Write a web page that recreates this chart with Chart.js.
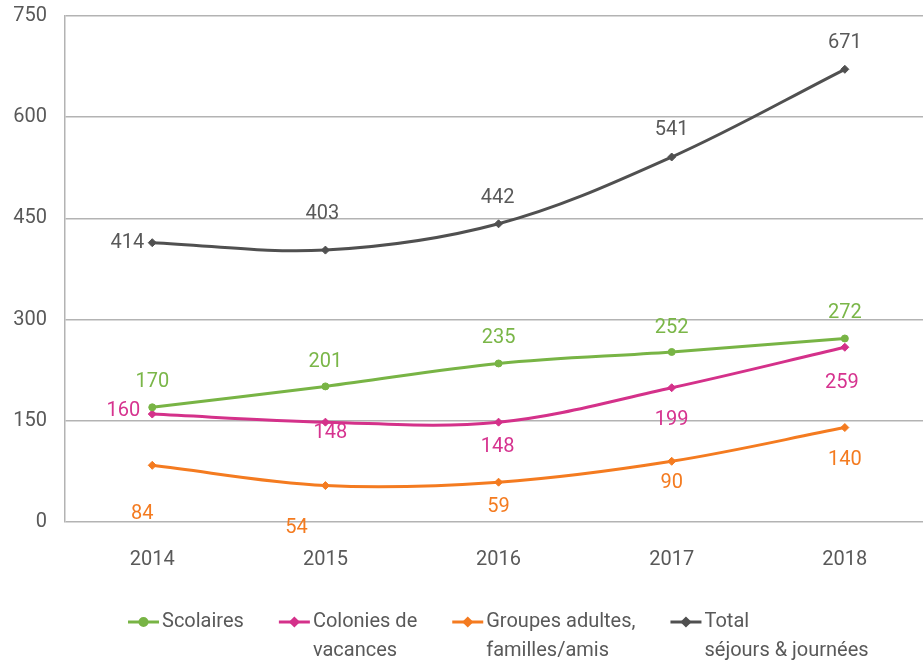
<!DOCTYPE html>
<html>
<head>
<meta charset="utf-8">
<script src="https://cdn.jsdelivr.net/npm/chart.js@4/dist/chart.umd.min.js"></script>
<style>
  html, body { margin: 0; padding: 0; overflow: hidden; background: #fff; }
</style>
</head>
<body>
<canvas id="chart" width="930" height="662"></canvas>
<script>
// data
const years = ['2014', '2015', '2016', '2017', '2018'];
const scolaires = [170, 201, 235, 252, 272];
const colonies = [160, 148, 148, 199, 259];
const groupes = [84, 54, 59, 90, 140];
const total = [414, 403, 442, 541, 671];
const yMax = 750;
const yStep = 150;

const legendNames = [
  ['Scolaires'],
  ['Colonies de', 'vacances'],
  ['Groupes adultes,', 'familles/amis'],
  ['Total', 'séjours & journées']
];

// where each value label sits relative to its point (dragged labels in the original)
const shiftScolaires = [[0, -25], [0, -24], [0, -25], [0, -24], [0, -25]];
const shiftColonies = [[-29, -3], [5, 11], [-1, 25], [0, 32], [-3, 36]];
const shiftGroupes = [[-10, 49], [-29, 42], [0, 25], [0, 22], [0, 32]];
const shiftTotal = [[-25, 0], [-3, -36], [-1, -26], [0, -27], [0, -26]];

const FONT = 'Roboto, "Noto Sans", sans-serif';
const TEXT = '#595959';
const GRID = '#b3b3b3';

// category index -> point; the plot is cut at the right edge of the picture,
// so the x range is a bit narrower than a plain category axis
const toPoints = arr => arr.map((v, i) => ({ x: i, y: v }));

// value labels next to each point
const valueLabels = {
  id: 'valueLabels',
  afterDatasetsDraw(chart) {
    const ctx = chart.ctx;
    ctx.save();
    ctx.font = '20px ' + FONT;
    ctx.textAlign = 'center';
    ctx.textBaseline = 'middle';
    chart.data.datasets.forEach((ds, i) => {
      const meta = chart.getDatasetMeta(i);
      ctx.fillStyle = ds.labelColor;
      meta.data.forEach((pt, j) => {
        const s = ds.labelShift[j];
        ctx.fillText(ds.data[j].y, pt.x + s[0], pt.y + s[1]);
      });
    });
    ctx.restore();
  }
};

// legend at the bottom, with two-line names
const bottomLegend = {
  id: 'bottomLegend',
  afterDraw(chart) {
    const ctx = chart.ctx;
    ctx.save();
    ctx.font = '20px ' + FONT;
    ctx.textBaseline = 'middle';
    let x = 128;
    const y = 622;
    legendNames.forEach((lines, i) => {
      const ds = chart.data.datasets[i];
      ctx.strokeStyle = ds.borderColor;
      ctx.lineWidth = 3;
      ctx.beginPath();
      ctx.moveTo(x, y);
      ctx.lineTo(x + 31, y);
      ctx.stroke();
      Chart.helpers.drawPoint(ctx, {
        pointStyle: ds.pointStyle, radius: 3.5, borderWidth: 1
      }, x + 15.5, y);
      ctx.fillStyle = ds.borderColor;
      ctx.fill();
      ctx.fillStyle = TEXT;
      ctx.textAlign = 'left';
      let w = 0;
      lines.forEach((t, k) => {
        ctx.fillText(t, x + 34, y + k * 29);
        w = Math.max(w, ctx.measureText(t).width);
      });
      x += 34 + w + 35;
    });
    ctx.restore();
  }
};

function series(label, data, color, labelColor, style, shift) {
  return {
    label: label,
    data: toPoints(data),
    borderColor: color,
    backgroundColor: color,
    pointBackgroundColor: color,
    pointBorderColor: color,
    borderWidth: 3,
    pointStyle: style,
    pointRadius: style === 'circle' ? 3.5 : 4,
    pointBorderWidth: 1,
    tension: 0.35,
    labelColor: labelColor,
    labelShift: shift
  };
}

new Chart(document.getElementById('chart'), {
  type: 'line',
  data: {
    datasets: [
      series('Scolaires', scolaires, '#78b445', '#7ab648', 'circle', shiftScolaires),
      series('Colonies de vacances', colonies, '#d4318a', '#d6338f', 'rectRot', shiftColonies),
      series('Groupes adultes, familles/amis', groupes, '#f47b20', '#f47b20', 'rectRot', shiftGroupes),
      series('Total séjours & journées', total, '#505050', TEXT, 'rectRot', shiftTotal)
    ]
  },
  options: {
    responsive: false,
    animation: false,
    layout: { padding: { top: 16, bottom: 92, left: 0, right: 0 } },
    plugins: {
      legend: { display: false },
      tooltip: { enabled: false }
    },
    scales: {
      x: {
        type: 'linear',
        min: -0.504,
        max: 4.463,
        grid: { display: false },
        border: { display: false },
        afterBuildTicks(scale) {
          scale.ticks = years.map((y, i) => ({ value: i }));
        },
        ticks: {
          color: TEXT,
          font: { family: FONT, size: 20 },
          padding: 18,
          autoSkip: false,
          maxRotation: 0,
          callback: v => years[v]
        },
        afterFit(scale) {
          scale.height = 48;
          scale.paddingLeft = 0;
          scale.paddingRight = 0;
        }
      },
      y: {
        min: 0,
        max: yMax,
        ticks: { stepSize: yStep, color: TEXT, font: { family: FONT, size: 20 }, padding: 18 },
        grid: { color: GRID, lineWidth: 1.5, drawTicks: false },
        border: { color: GRID, width: 1.5 },
        afterFit(scale) {
          scale.width = 65;
          scale.paddingTop = 0;
          scale.paddingBottom = 0;
        }
      }
    }
  },
  plugins: [valueLabels, bottomLegend]
});
</script>
</body>
</html>
